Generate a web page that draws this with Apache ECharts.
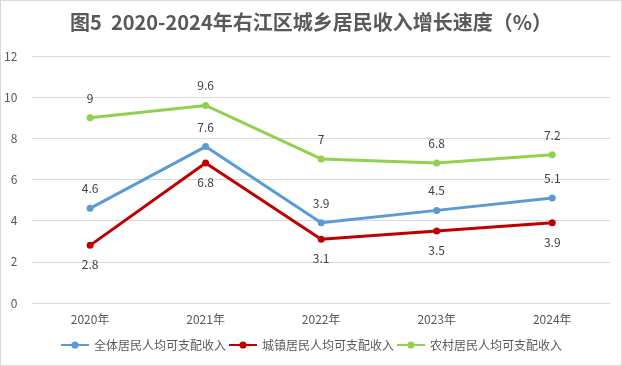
<!DOCTYPE html>
<html><head><meta charset="utf-8">
<script src="https://cdn.jsdelivr.net/npm/echarts@6/dist/echarts.min.js"></script>
<style>html,body{margin:0;padding:0;background:#fff}#c{width:622px;height:366px;box-sizing:border-box;border:1px solid #d9d9d9}</style>
</head><body><div id="c"></div>
<script>
const categories = ['2020年','2021年','2022年','2023年','2024年'];
const seriesNames = ['全体居民人均可支配收入','城镇居民人均可支配收入','农村居民人均可支配收入'];
const allResidents = [4.6, 7.6, 3.9, 4.5, 5.1];
const urbanResidents = [2.8, 6.8, 3.1, 3.5, 3.9];
const ruralResidents = [9, 9.6, 7, 6.8, 7.2];
const yTicks = [0, 2, 4, 6, 8, 10, 12];
const colors = ['#5b9bd5', '#c00000', '#92d050'];
const labelPos = ['top', 'bottom', 'top'];
const font = '"Microsoft YaHei","Noto Sans CJK SC",sans-serif';
const chart = echarts.init(document.getElementById('c'));
const datas = [allResidents, urbanResidents, ruralResidents];
chart.setOption({
  animation: false,
  title: {text: '图5  2020-2024年右江区城乡居民收入增长速度（%）', left: 'center', top: 6,
    textStyle: {fontSize: 20, fontWeight: 'bold', color: '#595959', fontFamily: font}},
  grid: {left: 30, right: 11, top: 55, bottom: 62},
  legend: {bottom: 9, itemGap: 2, itemWidth: 28, itemHeight: 9,
    textStyle: {fontSize: 12, color: '#595959', fontFamily: font},
    data: seriesNames},
  xAxis: {type: 'category', data: categories, boundaryGap: true,
    axisLine: {lineStyle: {color: '#d9d9d9'}}, axisTick: {show: false},
    axisLabel: {color: '#595959', fontSize: 12, margin: 10, fontFamily: font}},
  yAxis: {type: 'value', min: yTicks[0], max: yTicks[yTicks.length-1], interval: 2,
    axisLine: {show: false}, axisTick: {show: false},
    splitLine: {lineStyle: {color: '#d9d9d9'}},
    axisLabel: {color: '#595959', fontSize: 12, margin: 15, fontFamily: font}},
  series: seriesNames.map((n, i) => ({
    name: n, type: 'line', data: datas[i], symbol: 'circle', symbolSize: 7,
    lineStyle: {width: 3, color: colors[i]}, itemStyle: {color: colors[i]},
    label: {show: true, position: labelPos[i], distance: 10, color: '#404040', fontSize: 12, fontFamily: font}
  }))
});
</script></body></html>
